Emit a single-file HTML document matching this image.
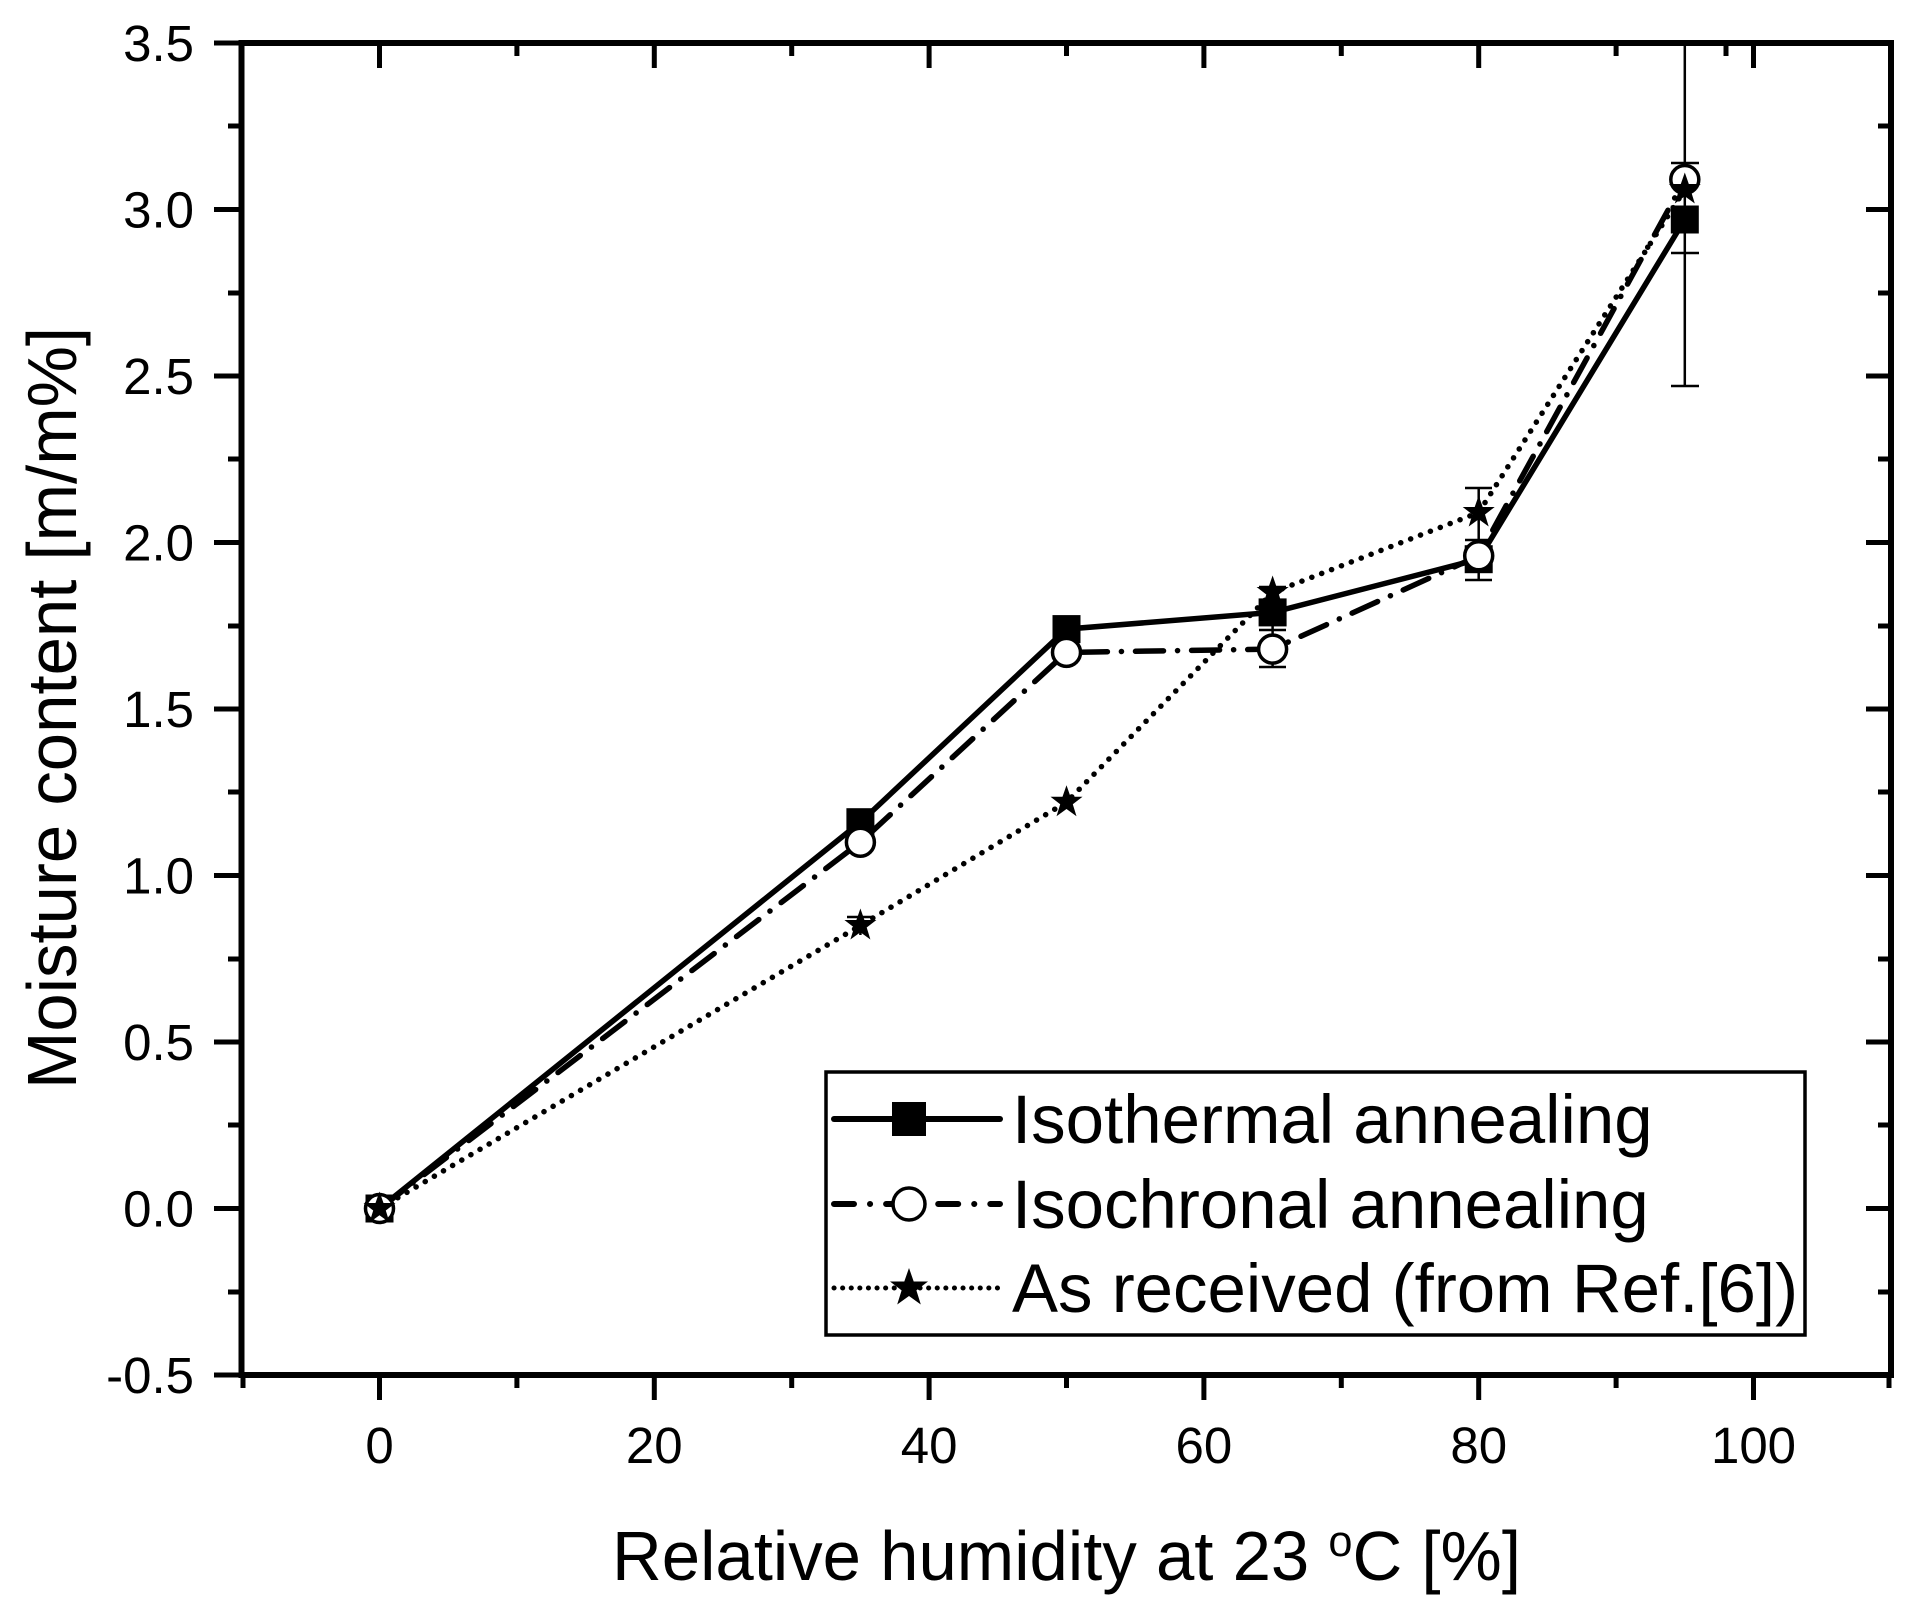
<!DOCTYPE html>
<html><head><meta charset="utf-8"><style>html,body{margin:0;padding:0;background:#fff}svg{display:block}</style></head>
<body>
<svg width="1913" height="1612" viewBox="0 0 1913 1612" xmlns="http://www.w3.org/2000/svg" font-family="Liberation Sans, Arial, sans-serif">
<defs>
<path id="star" d="M0,-17 L4,-5.5 L16,-5.5 L6.3,2 L10,14 L0,6.8 L-10,14 L-6.3,2 L-16,-5.5 L-4,-5.5 Z" fill="#000"/>
<path id="star2" d="M0,-20 L4.7,-6.5 L19,-6.5 L7.4,2.4 L11.8,16.5 L0,8 L-11.8,16.5 L-7.4,2.4 L-19,-6.5 L-4.7,-6.5 Z" fill="#000"/>
</defs>
<g stroke="#000" fill="none">
<g stroke-width="2.5">
<line x1="1684.8" y1="43" x2="1684.8" y2="386"/>
<line x1="1671" y1="386" x2="1699" y2="386"/>
<line x1="1671" y1="163" x2="1699" y2="163"/>
<line x1="1671" y1="253" x2="1699" y2="253"/>
<line x1="1478.7" y1="488" x2="1478.7" y2="580"/>
<line x1="1465" y1="488" x2="1492" y2="488"/>
<line x1="1465" y1="540" x2="1492" y2="540"/>
<line x1="1465" y1="580" x2="1492" y2="580"/>
<line x1="1272.6" y1="587" x2="1272.6" y2="667"/>
<line x1="1259" y1="587" x2="1286" y2="587"/>
<line x1="1259" y1="630" x2="1286" y2="630"/>
<line x1="1259" y1="667" x2="1286" y2="667"/>
<line x1="860.4" y1="915" x2="860.4" y2="935"/>
<line x1="847" y1="917" x2="874" y2="917"/>
</g>
<polyline stroke-width="5.5" points="379.5,1208.5 860.4,822.2 1066.5,629.1 1272.6,612.4 1478.7,559.2 1684.8,219.5"/>
<polyline stroke-width="5.5" stroke-linecap="round" stroke-dasharray="28,14,0.1,14" points="379.5,1208.5 860.4,842.2 1066.5,652.4 1272.6,649.1 1478.7,555.8 1684.8,179.5"/>
<polyline stroke-width="5.5" stroke-linecap="round" stroke-dasharray="0.1,10.5" points="379.5,1208.5 860.4,925.5 1066.5,802.2 1272.6,592.5 1478.7,512.5 1684.8,189.5"/>
</g>
<g fill="#000">
<rect x="365.5" y="1194.5" width="28" height="28"/>
<rect x="846.4" y="808.2" width="28" height="28"/>
<rect x="1052.5" y="615.1" width="28" height="28"/>
<rect x="1258.6" y="598.4" width="28" height="28"/>
<rect x="1464.7" y="545.2" width="28" height="28"/>
<rect x="1670.8" y="205.5" width="28" height="28"/>
</g>
<g fill="#fff" stroke="#000" stroke-width="3.5">
<circle cx="379.5" cy="1208.5" r="14"/>
<circle cx="860.4" cy="842.2" r="14"/>
<circle cx="1066.5" cy="652.4" r="14"/>
<circle cx="1272.6" cy="649.1" r="14"/>
<circle cx="1478.7" cy="555.8" r="14"/>
<circle cx="1684.8" cy="179.5" r="14"/>
</g>
<use href="#star" x="379.5" y="1208.5"/>
<use href="#star" x="860.4" y="925.5"/>
<use href="#star" x="1066.5" y="802.2"/>
<use href="#star" x="1272.6" y="592.5"/>
<use href="#star" x="1478.7" y="512.5"/>
<use href="#star" x="1684.8" y="189.5"/>
<rect x="241.5" y="43" width="1649.5" height="1332" fill="none" stroke="#000" stroke-width="6"/>
<g stroke="#000" stroke-width="5">
<line x1="214" y1="43" x2="241" y2="43"/><line x1="214" y1="209.5" x2="241" y2="209.5"/><line x1="214" y1="376" x2="241" y2="376"/><line x1="214" y1="542.5" x2="241" y2="542.5"/><line x1="214" y1="709" x2="241" y2="709"/><line x1="214" y1="875.5" x2="241" y2="875.5"/><line x1="214" y1="1042" x2="241" y2="1042"/><line x1="214" y1="1208.5" x2="241" y2="1208.5"/><line x1="214" y1="1375" x2="241" y2="1375"/>
<line x1="228" y1="126" x2="241" y2="126"/><line x1="228" y1="293" x2="241" y2="293"/><line x1="228" y1="459" x2="241" y2="459"/><line x1="228" y1="626" x2="241" y2="626"/><line x1="228" y1="792" x2="241" y2="792"/><line x1="228" y1="959" x2="241" y2="959"/><line x1="228" y1="1125" x2="241" y2="1125"/><line x1="228" y1="1292" x2="241" y2="1292"/>
<line x1="1866" y1="209.5" x2="1891" y2="209.5"/><line x1="1866" y1="376" x2="1891" y2="376"/><line x1="1866" y1="542.5" x2="1891" y2="542.5"/><line x1="1866" y1="709" x2="1891" y2="709"/><line x1="1866" y1="875.5" x2="1891" y2="875.5"/><line x1="1866" y1="1042" x2="1891" y2="1042"/><line x1="1866" y1="1208.5" x2="1891" y2="1208.5"/>
<line x1="1878" y1="126" x2="1891" y2="126"/><line x1="1878" y1="293" x2="1891" y2="293"/><line x1="1878" y1="459" x2="1891" y2="459"/><line x1="1878" y1="626" x2="1891" y2="626"/><line x1="1878" y1="792" x2="1891" y2="792"/><line x1="1878" y1="959" x2="1891" y2="959"/><line x1="1878" y1="1125" x2="1891" y2="1125"/><line x1="1878" y1="1292" x2="1891" y2="1292"/>
<line x1="379.5" y1="1375" x2="379.5" y2="1400"/><line x1="654.3" y1="1375" x2="654.3" y2="1400"/><line x1="929.1" y1="1375" x2="929.1" y2="1400"/><line x1="1203.9" y1="1375" x2="1203.9" y2="1400"/><line x1="1478.7" y1="1375" x2="1478.7" y2="1400"/><line x1="1753.5" y1="1375" x2="1753.5" y2="1400"/>
<line x1="243" y1="1375" x2="243" y2="1388"/><line x1="516.9" y1="1375" x2="516.9" y2="1388"/><line x1="791.7" y1="1375" x2="791.7" y2="1388"/><line x1="1066.5" y1="1375" x2="1066.5" y2="1388"/><line x1="1341.3" y1="1375" x2="1341.3" y2="1388"/><line x1="1616.1" y1="1375" x2="1616.1" y2="1388"/><line x1="1889" y1="1375" x2="1889" y2="1388"/>
<line x1="379.5" y1="43" x2="379.5" y2="68"/><line x1="654.3" y1="43" x2="654.3" y2="68"/><line x1="929.1" y1="43" x2="929.1" y2="68"/><line x1="1203.9" y1="43" x2="1203.9" y2="68"/><line x1="1478.7" y1="43" x2="1478.7" y2="68"/><line x1="1753.5" y1="43" x2="1753.5" y2="68"/>
<line x1="516.9" y1="43" x2="516.9" y2="56"/><line x1="791.7" y1="43" x2="791.7" y2="56"/><line x1="1066.5" y1="43" x2="1066.5" y2="56"/><line x1="1341.3" y1="43" x2="1341.3" y2="56"/><line x1="1616.1" y1="43" x2="1616.1" y2="56"/><line x1="1726" y1="43" x2="1726" y2="56"/>
</g>
<g font-size="51" text-anchor="end" fill="#000">
<text x="194" y="61">3.5</text><text x="194" y="227.5">3.0</text><text x="194" y="394">2.5</text><text x="194" y="560.5">2.0</text><text x="194" y="727">1.5</text><text x="194" y="893.5">1.0</text><text x="194" y="1060">0.5</text><text x="194" y="1226.5">0.0</text><text x="194" y="1393">-0.5</text>
</g>
<g font-size="51" text-anchor="middle" fill="#000">
<text x="379.5" y="1463">0</text><text x="654.3" y="1463">20</text><text x="929.1" y="1463">40</text><text x="1203.9" y="1463">60</text><text x="1478.7" y="1463">80</text><text x="1753.5" y="1463">100</text>
</g>
<text x="612" y="1580" font-size="70" textLength="909" lengthAdjust="spacingAndGlyphs">Relative humidity at 23 <tspan dy="-24" font-size="44">o</tspan><tspan dy="24">C [%]</tspan></text>
<text transform="translate(76,1089) rotate(-90)" font-size="70" textLength="762" lengthAdjust="spacingAndGlyphs">Moisture content [m/m%]</text>
<rect x="826" y="1072" width="979" height="263" fill="#fff" stroke="#000" stroke-width="3.5"/>
<g stroke="#000" stroke-width="6" stroke-linecap="round">
<line x1="834" y1="1119" x2="1000" y2="1119"/>
<line x1="834" y1="1204" x2="1000" y2="1204" stroke-dasharray="20,16,0.1,16"/>
<line x1="834" y1="1288" x2="1000" y2="1288" stroke-dasharray="0.1,8.5" stroke-width="5"/>
</g>
<rect x="892" y="1102" width="34" height="34" fill="#000"/>
<circle cx="909" cy="1204" r="16" fill="#fff" stroke="#000" stroke-width="3.5"/>
<use href="#star2" x="909" y="1288"/>
<g font-size="69" fill="#000">
<text x="1012" y="1143">Isothermal annealing</text>
<text x="1012" y="1228">Isochronal annealing</text>
<text x="1012" y="1312">As received (from Ref.[6])</text>
</g>
</svg>
</body></html>
